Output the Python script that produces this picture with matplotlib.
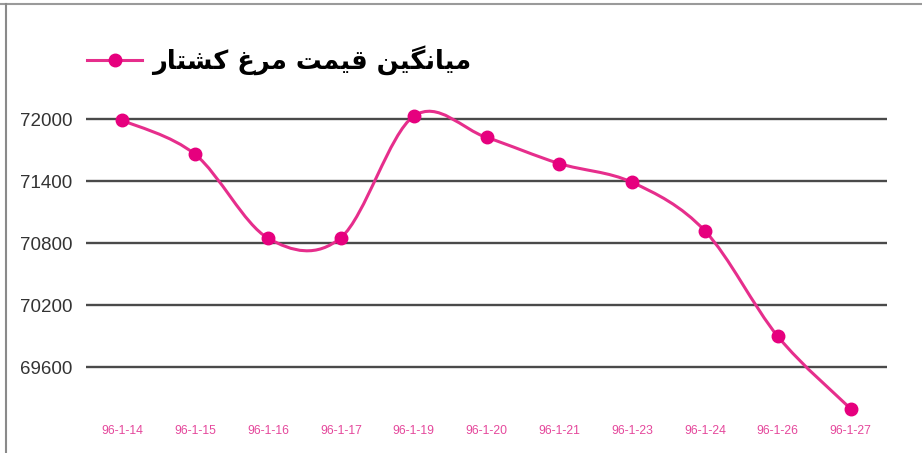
import matplotlib
matplotlib.use("Agg")
import matplotlib.pyplot as plt
from matplotlib.path import Path
from matplotlib.patches import PathPatch
from matplotlib.lines import Line2D

# ---- data ----
dates = ["96-1-14", "96-1-15", "96-1-16", "96-1-17", "96-1-19", "96-1-20",
         "96-1-21", "96-1-23", "96-1-24", "96-1-26", "96-1-27"]
prices = [71990, 71660, 70850, 70855, 72030, 71825, 71572, 71390, 70920, 69900, 69200]
y_ticks = [69600, 70200, 70800, 71400, 72000]
# "میانگین قیمت مرغ کشتار" in shaped presentation forms (logical order), reversed for display
series_name_logical = ("\uFEE3\uFBFF\uFE8E\uFEE7\uFB95\uFBFF\uFEE6 "
                       "\uFED7\uFBFF\uFEE4\uFE96 "
                       "\uFEE3\uFEAE\uFECD "
                       "\uFB90\uFEB8\uFE98\uFE8E\uFEAD")
series_name = series_name_logical[::-1]

LINE_C = "#E62E8C"
MARK_C = "#E6007E"
LABEL_C = "#E5489C"

W, H = 922, 453
fig = plt.figure(figsize=(W / 100, H / 100), dpi=100)
left, right, top, bottom = 86, 887, 109, 419
ax = fig.add_axes([left / W, 1 - bottom / H, (right - left) / W, (bottom - top) / H])

x = list(range(len(prices)))

# smoothed line (Catmull-Rom as cubic Bezier segments)
pts = list(zip(x, prices))
verts = [pts[0]]
codes = [Path.MOVETO]
n = len(pts)
for i in range(n - 1):
    p0 = pts[i - 1] if i > 0 else pts[i]
    p1 = pts[i]
    p2 = pts[i + 1]
    p3 = pts[i + 2] if i + 2 < n else pts[i + 1]
    c1 = (p1[0] + (p2[0] - p0[0]) / 6, p1[1] + (p2[1] - p0[1]) / 6)
    c2 = (p2[0] - (p3[0] - p1[0]) / 6, p2[1] - (p3[1] - p1[1]) / 6)
    verts += [c1, c2, p2]
    codes += [Path.CURVE4] * 3
ax.add_patch(PathPatch(Path(verts, codes), facecolor="none", edgecolor=LINE_C,
                       lw=2.2, zorder=3, capstyle="round"))
ax.plot(x, prices, linestyle="none", marker="o", ms=9, color=MARK_C, zorder=4)

ax.set_xlim(-0.5, len(prices) - 0.5)
ax.set_ylim(69100, 72100)
ax.set_yticks(y_ticks)
ax.set_yticklabels([str(v) for v in y_ticks])
ax.set_xticks(x)
ax.set_xticklabels(dates)
for s in ax.spines.values():
    s.set_visible(False)
ax.grid(axis="y", color="#4a4a4a", lw=1.7, zorder=1)
ax.grid(axis="x", visible=False)
ax.tick_params(axis="y", length=0, pad=10, labelsize=13.5, labelcolor="#333333")
ax.tick_params(axis="x", length=0, pad=4, labelsize=8.8, labelcolor=LABEL_C)
for lab in ax.get_yticklabels() + ax.get_xticklabels():
    lab.set_family(["Liberation Sans", "DejaVu Sans"])

# legend
handle = Line2D([], [], color=LINE_C, lw=2.2, marker="o", ms=9,
                markerfacecolor=MARK_C, markeredgecolor=MARK_C)
leg = ax.legend([handle], [series_name], loc="center left",
                bbox_to_anchor=(87 / W, 1 - 60 / H), bbox_transform=fig.transFigure,
                frameon=False, borderpad=0, borderaxespad=0, handlelength=2.15,
                handletextpad=0.4,
                prop={"family": ["DejaVu Sans"], "weight": "bold", "size": 18.5})

# frame lines of the picture
fig.add_artist(Line2D([0, 1], [1 - 4 / H, 1 - 4 / H], transform=fig.transFigure,
                      color="#9a9a9a", lw=1.5))
fig.add_artist(Line2D([6 / W, 6 / W], [0, 1 - 4 / H], transform=fig.transFigure,
                      color="#8a8a8a", lw=1.5))

fig.savefig("out.png", dpi=100, facecolor="white")
